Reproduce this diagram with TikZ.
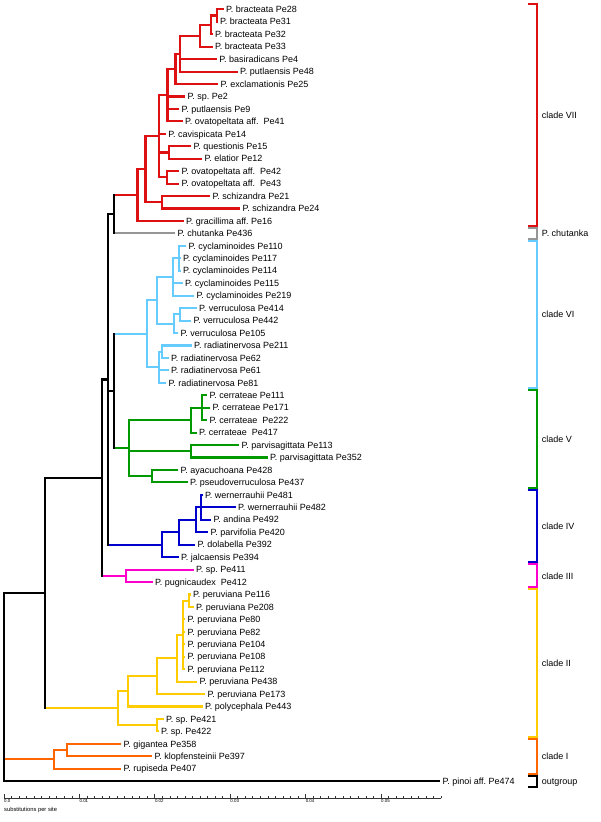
\documentclass[tikz,border=0pt]{standalone}
\usepackage{fontspec}
\setmainfont{Liberation Sans}
\definecolor{cVII}{RGB}{221,17,17}
\definecolor{cchu}{RGB}{150,150,150}
\definecolor{cVI}{RGB}{102,204,255}
\definecolor{cV}{RGB}{0,153,0}
\definecolor{cIV}{RGB}{0,0,204}
\definecolor{cIII}{RGB}{255,0,204}
\definecolor{cII}{RGB}{255,204,0}
\definecolor{cI}{RGB}{255,102,0}
\begin{document}
\begin{tikzpicture}[x=1pt,y=-1pt,
    declare function={ry(\k)=9.3+(\k-1)*12.45;},
    br/.style={line width=2.1pt},
    bb/.style={br,black,line cap=rect},
    tip/.style={anchor=west,inner xsep=2.3pt,inner ysep=0pt,text height=6.4pt,text depth=0pt,
        font=\fontsize{9}{10}\selectfont\frenchspacing},
    scl/.style={line width=0.7pt,black!80},
    scllab/.style={anchor=north west,inner sep=0pt,font=\fontsize{4.4}{5}\selectfont},
  ]
\useasboundingbox (0,0) rectangle (600,822);
% tips
\foreach \n/\ex/\txt in {
  1/223.5/P. bracteata Pe28, 2/217.5/P. bracteata Pe31, 3/212.5/P. bracteata Pe32,
  4/212.5/P. bracteata Pe33, 5/216.8/P. basiradicans Pe4, 6/237.5/P. putlaensis Pe48,
  7/218/P. exclamationis Pe25, 8/185/P. sp. Pe2, 9/179/P. putlaensis Pe9,
  10/182.5/P. ovatopeltata aff.~~Pe41, 11/165.8/P. cavispicata Pe14, 12/191/P. questionis Pe15,
  13/202/P. elatior Pe12, 14/179/P. ovatopeltata aff.~~Pe42, 15/179/P. ovatopeltata aff.~~Pe43,
  16/210/P. schizandra Pe21, 17/240/P. schizandra Pe24, 18/183.5/P. gracillima aff. Pe16,
  19/175/P. chutanka Pe436, 20/186/P. cyclaminoides Pe110, 21/180.5/P. cyclaminoides Pe117,
  22/180.5/P. cyclaminoides Pe114, 23/182.5/P. cyclaminoides Pe115, 24/194/P. cyclaminoides Pe219,
  25/196.5/P. verruculosa Pe414, 26/191/P. verruculosa Pe442, 27/178/P. verruculosa Pe105,
  28/191.7/P. radiatinervosa Pe211, 29/168.5/P. radiatinervosa Pe62, 30/168.5/P. radiatinervosa Pe61,
  31/166/P. radiatinervosa Pe81, 32/207/P. cerrateae Pe111, 33/210/P. cerrateae Pe171,
  34/207/P. cerrateae~~Pe222, 35/196.5/P. cerrateae~~Pe417, 36/239/P. parvisagittata Pe113,
  37/267.5/P. parvisagittata Pe352, 38/178/P. ayacuchoana Pe428, 39/187.5/P. pseudoverruculosa Pe437,
  40/202.5/P. wernerrauhii Pe481, 41/235.5/P. wernerrauhii Pe482, 42/211/P. andina Pe492,
  43/208/P. parvifolia Pe420, 44/195/P. dolabella Pe392, 45/178.5/P. jalcaensis Pe394,
  46/193.5/P. sp. Pe411, 47/152.5/P. pugnicaudex~~Pe412, 48/190.5/P. peruviana Pe116,
  49/193.5/P. peruviana Pe208, 50/185/P. peruviana Pe80, 51/185/P. peruviana Pe82,
  52/185/P. peruviana Pe104, 53/185/P. peruviana Pe108, 54/185/P. peruviana Pe112,
  55/197/P. peruviana Pe438, 56/205/P. peruviana Pe173, 57/202.5/P. polycephala Pe443,
  58/163.5/P. sp. Pe421, 59/158.5/P. sp. Pe422, 60/121/P. gigantea Pe358,
  61/152/P. klopfensteinii Pe397, 62/121/P. rupiseda Pe407, 63/440/P. pinoi aff. Pe474}
  \node[tip] (t\n) at (\ex,{ry(\n)}) {\txt};
% inner nodes
\coordinate (Root) at (4,{ry(55.439)});
\coordinate (B1) at (45,{ry(47.878)});
\coordinate (B2) at (102.3,{ry(38.6155)});
\coordinate (B3) at (108.3,{ry(30.731)});
\coordinate (B4) at (114,{ry(17.4619)});
\coordinate (B5) at (114,{ry(31.6563)});
\coordinate (RA) at (137.5,{ry(15.9238)});
\coordinate (RB) at (145.5,{ry(13.8477)});
\coordinate (RC) at (159.2,{ry(11.1953)});
\coordinate (RD) at (167.5,{ry(7.8906)});
\coordinate (RE) at (175.5,{ry(5.7813)});
\coordinate (RF) at (180,{ry(4.5625)});
\coordinate (RG) at (200,{ry(3.125)});
\coordinate (RH) at (211,{ry(2.25)});
\coordinate (RI) at (217,{ry(1.5)});
\coordinate (Rqe) at (169.3,{ry(12.5)});
\coordinate (R42) at (166.7,{ry(14.5)});
\coordinate (Rsch) at (161.7,{ry(16.5)});
\coordinate (VA) at (146.7,{ry(27.0625)});
\coordinate (VB) at (156.7,{ry(24.375)});
\coordinate (VC) at (172.7,{ry(22.5)});
\coordinate (VD) at (179.3,{ry(21)});
\coordinate (VV) at (174.3,{ry(26.25)});
\coordinate (VW) at (180,{ry(25.5)});
\coordinate (VR) at (159.3,{ry(29.75)});
\coordinate (VS) at (161.7,{ry(28.5)});
\coordinate (GA) at (128.7,{ry(36.25)});
\coordinate (GB) at (190.7,{ry(34)});
\coordinate (GC) at (201.7,{ry(33)});
\coordinate (GP) at (190.7,{ry(36.5)});
\coordinate (GQ) at (151.7,{ry(38.5)});
\coordinate (IA) at (162.3,{ry(44)});
\coordinate (IB) at (179,{ry(43)});
\coordinate (IC) at (196,{ry(42)});
\coordinate (ID) at (200.7,{ry(41)});
\coordinate (PA) at (126,{ry(46.5)});
\coordinate (YA) at (118.3,{ry(57.1406)});
\coordinate (YB) at (128.3,{ry(55.7813)});
\coordinate (YC) at (157.3,{ry(54.5625)});
\coordinate (YD) at (176.7,{ry(53.125)});
\coordinate (YE) at (183.3,{ry(51.25)});
\coordinate (YF) at (189,{ry(48.5)});
\coordinate (YS) at (157.3,{ry(58.5)});
\coordinate (OA) at (54.3,{ry(61.25)});
\coordinate (OB) at (66.7,{ry(60.5)});
% clades
\foreach \p/\c in {RI/t1.west,RI/t2.west,RH/RI,RH/t3.west,RG/RH,RG/t4.west,RF/RG,RF/t5.west,
    RF/t6.west,RE/RF,RE/t7.west,RD/RE,RD/t8.west,RD/t9.west,RD/t10.west,Rqe/t12.west,Rqe/t13.west,
    R42/t14.west,R42/t15.west,RC/RD,RC/t11.west,RC/Rqe,RC/R42,Rsch/t16.west,Rsch/t17.west,
    RB/RC,RB/Rsch,RA/RB,RA/t18.west}
  \draw[br,cVII] (\p) |- (\c);
\foreach \p/\c in {VD/t20.west,VD/t21.west,VD/t22.west,VC/VD,VC/t23.west,VC/t24.west,
    VW/t25.west,VW/t26.west,VV/VW,VV/t27.west,VB/VC,VB/VV,VS/t28.west,VS/t29.west,VR/VS,
    VR/t30.west,VR/t31.west,VA/VB,VA/VR}
  \draw[br,cVI] (\p) |- (\c);
\foreach \p/\c in {GC/t32.west,GC/t33.west,GC/t34.west,GB/GC,GB/t35.west,GP/t36.west,
    GP/t37.west,GQ/t38.west,GQ/t39.west,GA/GB,GA/GP,GA/GQ}
  \draw[br,cV] (\p) |- (\c);
\foreach \p/\c in {ID/t40.west,ID/t41.west,ID/t42.west,IC/ID,IC/t43.west,IB/IC,IB/t44.west,
    IA/IB,IA/t45.west}
  \draw[br,cIV] (\p) |- (\c);
\foreach \p/\c in {PA/t46.west,PA/t47.west}
  \draw[br,cIII] (\p) |- (\c);
\foreach \p/\c in {YF/t48.west,YF/t49.west,YE/YF,YE/t50.west,YE/t51.west,YE/t52.west,
    YE/t53.west,YE/t54.west,YD/YE,YD/t55.west,YC/YD,YC/t56.west,YB/YC,YB/t57.west,
    YS/t58.west,YS/t59.west,YA/YB,YA/YS}
  \draw[br,cII] (\p) |- (\c);
\foreach \p/\c in {OB/t60.west,OB/t61.west,OA/OB,OA/t62.west}
  \draw[br,cI] (\p) |- (\c);
% backbone
\foreach \p/\c/\col in {B4/RA/cVII,B4/t19.west/cchu,B5/VA/cVI,B5/GA/cV,B3/B4/black,B3/B5/black,
    B3/IA/cIV,B2/B3/black,B2/PA/cIII,B1/B2/black,B1/YA/cII,Root/B1/black,Root/OA/cI,
    Root/t63.west/black}
  \draw[br,\col] (\p |- \c) -- (\c);
\draw[bb] (Root |- B1) -- (Root |- t63.west);
\draw[bb] (B1 |- B2) -- (B1 |- YA);
\draw[bb] (B2 |- B3) -- (B2 |- PA);
\draw[bb] (B3 |- B4) -- (B3 |- IA);
\draw[bb] (B4 |- RA) -- (B4 |- t19.west);
\draw[bb] (B5 |- VA) -- (B5 |- GA);
% clade bars
\foreach \col/\ya/\yb in {cVII/4.3/226.2,cchu/228.2/238.6,cVI/240.6/388.0,cV/390.0/487.6,
    cIV/489.6/562.3,cIII/564.3/587.2,cII/589.2/736.6,cI/738.6/774.0,black/776.0/786.9}
  \draw[br,\col] (527.7,\ya) -- (537.3,\ya) -- (537.3,\yb) -- (527.7,\yb);
\foreach \nm/\ly/\txt in {lVII/115.3/clade VII,lchu/233.4/P. chutanka,lVI/314.3/clade VI,
    lV/438.8/clade V,lIV/526/clade IV,lIII/575.8/clade III,lII/662.9/clade II,
    lI/756.3/clade I,lout/781.5/outgroup}
  \node[tip] (\nm) at (539.4,\ly) {\txt};
% scale
\draw[scl] (4,798.3) -- (441.3,798.3);
\foreach \k in {0,...,58}
  \draw[scl] ({4+\k*7.54},798.3) -- ++(0,-2);
\foreach \k/\lab in {0/0.0,1/0.01,2/0.02,3/0.03,4/0.04,5/0.05}{
  \draw[scl] ({4+\k*75.4},798.3) -- ++(0,-4);
  \node[scllab] (s\k) at ({4+\k*75.4},799.6) {\lab};
}
\node[anchor=west,inner sep=0pt,font=\fontsize{5.8}{6}\selectfont] (scap) at (4,809.5) {substitutions per site};
\end{tikzpicture}
\end{document}
